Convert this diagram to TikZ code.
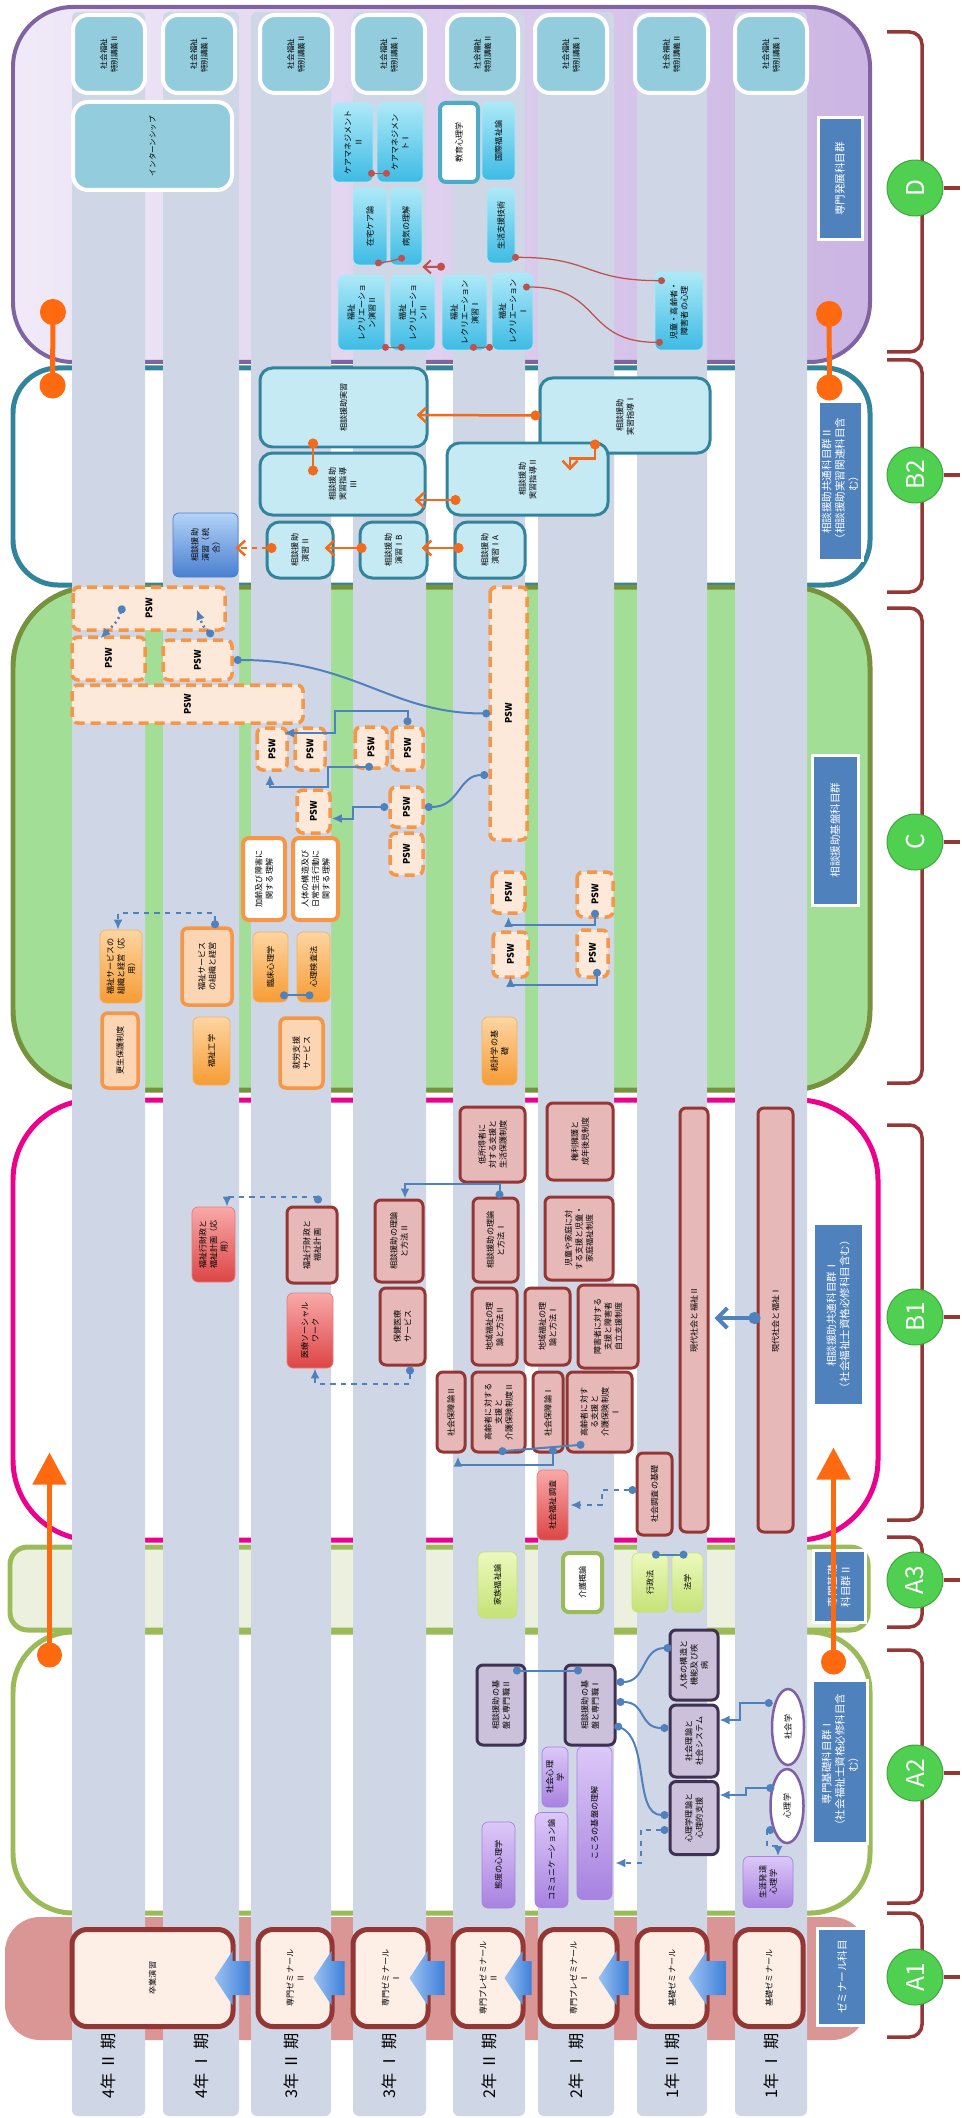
\documentclass[tikz,border=0pt]{standalone}
\usepackage{fontspec}
\setmainfont{Noto Sans CJK JP}
\usetikzlibrary{arrows.meta, calc, shapes.geometric}

\definecolor{bandgrey}{HTML}{CFD6E6}
\definecolor{semred}{HTML}{943634}
\definecolor{semfill}{HTML}{FDEEE6}
\definecolor{aonefill}{HTML}{D99694}
\definecolor{oliveG}{HTML}{9BBB59}
\definecolor{oliveD}{HTML}{76923C}
\definecolor{cgreen}{HTML}{A3DE97}
\definecolor{athree}{HTML}{EBF1DE}
\definecolor{tealB}{HTML}{31849B}
\definecolor{dpurple}{HTML}{8064A2}
\definecolor{dlite}{HTML}{F0EAF8}
\definecolor{ddark}{HTML}{CBB5E3}
\definecolor{grpblue}{HTML}{4F81BD}
\definecolor{circgreen}{HTML}{50D050}
\definecolor{bracered}{HTML}{953735}
\definecolor{orng}{HTML}{FF6A10}
\definecolor{linkblue}{HTML}{4F81BD}
\definecolor{pinkfill}{HTML}{E6B9B8}
\definecolor{orangeB}{HTML}{F79646}
\definecolor{psfill}{HTML}{FDE9D9}
\definecolor{cyanfill}{HTML}{C6EAF4}
\definecolor{tokufill}{HTML}{93CDDD}
\definecolor{linkred}{HTML}{C0504D}
\definecolor{linkorng}{HTML}{F26B1D}
\definecolor{kibanfill}{HTML}{CCC1DA}
\definecolor{kibandraw}{HTML}{3F3151}
\definecolor{purpL}{HTML}{DCC8F8}
\definecolor{purpD}{HTML}{A782E0}
\definecolor{purpE}{HTML}{7F5FA6}
\definecolor{grnL}{HTML}{ECF9BD}
\definecolor{grnD}{HTML}{C5E276}
\definecolor{redL}{HTML}{F9A9A9}
\definecolor{redD}{HTML}{DD4545}
\definecolor{oraL}{HTML}{FDD5A1}
\definecolor{oraD}{HTML}{F79C35}
\definecolor{oralite}{HTML}{FCD5B4}
\definecolor{bluL}{HTML}{B3D3F8}
\definecolor{bluD}{HTML}{4A7FD0}
\definecolor{cyaL}{HTML}{AEE9F8}
\definecolor{cyaD}{HTML}{3DBBE4}
\definecolor{tealW}{HTML}{4BACC6}
\definecolor{arrlite}{HTML}{9CC3F2}
\definecolor{arrdark}{HTML}{3D7FD9}

\tikzset{
  sz/.style 2 args={rotate=90, minimum height={(#1)*0.02cm}, minimum width={(#2)*0.02cm}},
  fsz/.style 2 args={minimum width={(#1)*0.02cm}, minimum height={(#2)*0.02cm}},
  band/.style={fill=bandgrey, rounded corners=0.12cm},
  period/.style={rotate=90, font=\fontsize{9.2}{10}\selectfont},
  glabel/.style={fill=grpblue, draw=white, line width=0.06cm, text=white, align=center, inner sep=1pt, font=\fontsize{6}{7.6}\selectfont},
  circ/.style={circle, fill=circgreen, draw=circgreen!80!black, line width=0.02cm, text=white, minimum size=1.12cm, inner sep=0pt, rotate=90, font=\fontsize{14}{14}\selectfont},
  grpbrace/.style={draw=bracered, line width=0.07cm, rounded corners=0.25cm},
  subj/.style={rounded corners=0.12cm, inner sep=0.5pt, align=center, font=\fontsize{4.6}{6}\selectfont},
  seminar/.style={subj, fill=semfill, draw=semred, line width=0.1cm, rounded corners=0.3cm},
  purp/.style={subj, top color=purpL, bottom color=purpD, draw=purpD},
  kiban/.style={subj, fill=kibanfill, draw=kibandraw, line width=0.06cm},
  ellip/.style={ellipse, fill=white, draw=purpE, line width=0.05cm, inner sep=0pt, font=\fontsize{4.6}{6}\selectfont},
  greenbox/.style={subj, top color=grnL, bottom color=grnD, draw=grnD},
  greenwhite/.style={subj, fill=white, draw=oliveG, line width=0.08cm},
  pinkbox/.style={subj, fill=pinkfill, draw=semred, line width=0.06cm},
  redgrad/.style={subj, top color=redL, bottom color=redD, draw=redD!70},
  oragrad/.style={subj, top color=oraL, bottom color=oraD, draw=oraD!80},
  oraline/.style={subj, fill=oralite, draw=orangeB, line width=0.07cm},
  orawhite/.style={subj, fill=white, draw=orangeB, line width=0.08cm},
  psw/.style={subj, fill=psfill, draw=orangeB, line width=0.07cm, dash pattern=on 0.2cm off 0.12cm, font=\bfseries\fontsize{5.2}{6}\selectfont},
  cyanbox/.style={subj, fill=cyanfill, draw=tealB, line width=0.06cm, rounded corners=0.25cm},
  bluegrad/.style={subj, top color=bluL, bottom color=bluD, draw=bluD},
  toku/.style={subj, fill=tokufill, draw=white, line width=0.08cm, rounded corners=0.3cm, font=\fontsize{4.3}{6}\selectfont},
  cyangrad/.style={subj, top color=cyaL, bottom color=cyaD, draw=cyaL},
  tealwhite/.style={subj, fill=white, draw=tealW, line width=0.08cm},
  blink/.style={draw=linkblue, line width=0.04cm},
  bdd/.style={blink, arrows={Circle[length=0.16cm]-Circle[length=0.16cm]}},
  bda/.style={blink, arrows={Circle[length=0.16cm]-Latex[length=0.2cm, width=0.18cm]}},
  olink/.style={draw=linkorng, line width=0.05cm},
  oda/.style={olink, arrows={Circle[length=0.2cm]-Straight Barb[length=0.16cm, width=0.3cm]}},
  odd/.style={olink, arrows={Circle[length=0.2cm]-Circle[length=0.2cm]}},
  rlink/.style={draw=linkred, line width=0.025cm},
  rdd/.style={rlink, arrows={Circle[length=0.14cm]-Circle[length=0.14cm]}},
  rda/.style={rlink, line width=0.04cm, arrows={Circle[length=0.16cm]-Straight Barb[length=0.14cm, width=0.26cm]}},
  bigo/.style={draw=orng, line width=0.1cm},
}

\begin{document}
\begin{tikzpicture}[x=0.02cm, y=-0.02cm]
    \useasboundingbox (0,0) rectangle (961,2118);

    % Group frames
    \node[fsz={857}{355}, rounded corners=1.2cm, left color=dlite, right color=ddark, draw=dpurple, line width=0.08cm] (frD) at (441.5,184.5) {};
    \node[fsz={857}{217}, rounded corners=0.9cm, fill=white, draw=tealB, line width=0.1cm] (frB2) at (441.5,476.5) {};
    \node[fsz={857}{503}, rounded corners=1.6cm, fill=cgreen, draw=oliveD, line width=0.1cm] (frC) at (441.5,838.5) {};
    \node[fsz={865}{440}, rounded corners=1.6cm, draw=magenta, line width=0.1cm] (frB1) at (445.5,1320) {};
    \node[fsz={858}{83}, rounded corners=0.35cm, fill=athree, draw=oliveG, line width=0.1cm] (frA3) at (439,1588.5) {};
    \node[fsz={857}{281}, rounded corners=1.2cm, draw=oliveG, line width=0.1cm] (frA2) at (441.5,1772.5) {};
    \node[fsz={862}{123}, rounded corners=0.7cm, fill=aonefill] (frA1) at (436,1978.5) {};

    % Period bands
    \foreach \n/\xa/\xb/\lab in {1/72/145/{4年 Ⅱ 期}, 2/163/239/{4年 Ⅰ 期}, 3/251/331/{3年 Ⅱ 期}, 4/353/426/{3年 Ⅰ 期},
                                5/453/525/{2年 Ⅱ 期}, 6/538/614/{2年 Ⅰ 期}, 7/637/707/{1年 Ⅱ 期}, 8/735/807/{1年 Ⅰ 期}} {
        \fill[band] (\xa,12) rectangle (\xb,2116);
        \node[period] (p\n) at ({(\xa+\xb)/2},2066) {\lab};
    }

    % Group labels
    \node[glabel, sz={44}{122}] (gD) at (840,179) {専門発展科目群};
    \node[glabel, sz={44}{158}] (gB2) at (840,481) {相談援助共通科目群Ⅱ\\（相談援助実習関連科目含\\む）};
    \node[glabel, sz={46}{150}] (gC) at (835,830) {相談援助基盤科目群};
    \node[glabel, sz={50}{182}] (gB1) at (838,1314) {相談援助共通科目群Ⅰ\\（社会福祉士資格必修科目含む）};
    \node[glabel, sz={52}{72}] (gA3) at (839,1586) {専門基礎\\科目群Ⅱ};
    \node[glabel, sz={55}{163}] (gA2) at (840,1762) {専門基礎科目群Ⅰ\\（社会福祉士資格必修科目含\\む）};
    \node[glabel, sz={49}{97}] (gA1) at (842,1977) {ゼミナール科目};

    % Brackets and circles
    \foreach \nm/\ya/\yb/\yc in {D/32/352/188, B2/360/592/475, C/608/1083/842, B1/1125/1520/1317,
                                 A3/1537/1627/1580, A2/1650/1903/1773, A1/1913/2037/1977} {
        \draw[grpbrace] (887,\ya) -- (922,\ya) -- (922,\yb) -- (887,\yb);
        \node[circ] (c\nm) at (915,\yc) {\nm};
        \draw[grpbrace] (c\nm.south) -- ++(16,0);
    }

    % A1 seminars
    \node[seminar, sz={161}{97}] (s8) at (152.5,1978) {卒業演習};
    \node[seminar, sz={74}{97}] (s7) at (295,1978) {専門ゼミナール\\Ⅱ};
    \node[seminar, sz={75}{97}] (s6) at (390.5,1978) {専門ゼミナール\\Ⅰ};
    \node[seminar, sz={70}{97}] (s5) at (488,1978) {専門プレゼミナール\\Ⅱ};
    \node[seminar, sz={77}{97}] (s4) at (578.5,1978) {専門プレゼミナール\\Ⅰ};
    \node[seminar, sz={70}{97}] (s3) at (672,1978) {基礎ゼミナール};
    \node[seminar, sz={68}{97}] (s2) at (769,1978) {基礎ゼミナール};
    \foreach \a/\b in {s2/s3, s3/s4, s4/s5, s5/s6, s6/s7, s7/s8}
        \shade[left color=arrlite, right color=arrdark] ($(\a.north)+(-6,-17)$) -- ($(\b.south)+(-3,-17)$) -- ($(\b.south)+(-3,-27)$)
            -- ($(\b.south)+(-21,0)$) -- ($(\b.south)+(-3,27)$) -- ($(\b.south)+(-3,17)$) -- ($(\a.north)+(-6,17)$) -- cycle;

    % A2 subjects
    \node[purp, sz={33}{86}] (taido) at (498.5,1865) {態度の心理学};
    \node[purp, sz={26}{60}] (shakaishin) at (555,1777) {社会心理\\学};
    \node[purp, sz={33}{95}] (comm) at (551.5,1860) {コミュニケーション論};
    \node[purp, sz={35}{153}] (kokoro) at (594.5,1823) {こころの基盤の理解};
    \node[kiban, sz={48}{80}] (kiban2) at (501,1705) {相談援助の基\\盤と専門職Ⅱ};
    \node[kiban, sz={50}{80}] (kiban1) at (590,1705) {相談援助の基\\盤と専門職Ⅰ};
    \node[kiban, sz={48}{70}] (jintai) at (694,1665) {人体の構造と\\機能及び疾\\病};
    \node[kiban, sz={48}{72}] (shakairiron) at (694,1741) {社会理論と\\社会システム};
    \node[kiban, sz={48}{73}] (shinri) at (694,1818) {心理学理論と\\心理的支援};
    \node[ellip, sz={32}{76}] (shakaigaku) at (788,1727) {社会学};
    \node[ellip, sz={33}{74}] (shinrigaku) at (787,1806) {心理学};
    \node[purp, sz={50}{51}] (shogai) at (768,1882) {生涯発達\\心理学};

    % A3 subjects
    \node[greenbox, sz={39}{66}] (kazoku) at (497.5,1585) {家族福祉論};
    \node[greenwhite, sz={39}{59}] (kaigo) at (582.5,1582.5) {介護概論};
    \node[greenbox, sz={36}{59}] (gyosei) at (650,1582.5) {行政法};
    \node[greenbox, sz={31}{59}] (hogaku) at (687.5,1582.5) {法学};

    % B1 subjects
    \node[pinkbox, sz={65}{75}] (teishotoku) at (492.5,1144.5) {低所得者に\\対する支援と\\生活保護制度};
    \node[pinkbox, sz={66}{77}] (kenri) at (580,1141.5) {権利擁護と\\成年後見制度};
    \node[pinkbox, sz={45}{84}] (soudan1) at (495.5,1240) {相談援助の理論\\と方法Ⅰ};
    \node[pinkbox, sz={68}{83}] (jido) at (579,1238.5) {児童や家庭に対\\する支援と児童・\\家庭福祉制度};
    \node[pinkbox, sz={45}{77}] (chiiki2) at (494.5,1326.5) {地域福祉の理\\論と方法Ⅱ};
    \node[pinkbox, sz={45}{77}] (chiiki1) at (547.5,1326.5) {地域福祉の理\\論と方法Ⅰ};
    \node[pinkbox, sz={60}{83}] (shogaisha) at (608,1326.5) {障害者に対する\\支援と障害者\\自立支援制度};
    \node[pinkbox, sz={28}{80}] (hosho2) at (451,1412) {社会保障論Ⅱ};
    \node[pinkbox, sz={53}{80}] (korei2) at (498.5,1412) {高齢者に対する\\支援と\\介護保険制度Ⅱ};
    \node[pinkbox, sz={30}{80}] (hosho1) at (548,1412) {社会保障論Ⅰ};
    \node[pinkbox, sz={65}{80}] (korei1) at (599.5,1412) {高齢者に対す\\る支援と\\介護保険制度\\Ⅰ};
    \node[redgrad, sz={31}{70}] (chosa) at (552.5,1505) {社会福祉調査};
    \node[pinkbox, sz={35}{82}] (chosakiso) at (654.5,1494) {社会調査の基礎};
    \node[pinkbox, sz={28}{424}] (gendai2) at (694,1320) {現代社会と福祉Ⅱ};
    \node[pinkbox, sz={35}{424}] (gendai1) at (775.5,1320) {現代社会と福祉Ⅰ};
    \node[pinkbox, sz={48}{82}] (soudan2) at (399,1241) {相談援助の理論\\と方法Ⅱ};
    \node[pinkbox, sz={45}{77}] (hoken) at (402.5,1326.5) {保健医療\\サービス};
    \node[redgrad, sz={46}{75}] (iryo) at (310,1330.5) {医療ソーシャル\\ワーク};
    \node[pinkbox, sz={50}{76}] (zaisei) at (312,1245) {福祉行財政と\\福祉計画};
    \node[redgrad, sz={43}{75}] (zaisei2) at (213.5,1244.5) {福祉行財政と\\福祉計画（応\\用）};

    % C subjects
    \node[oraline, sz={36}{75}] (kousei) at (120,1050.5) {更生保護制度};
    \node[oragrad, sz={37}{68}] (kogaku) at (211.5,1051) {福祉工学};
    \node[oraline, sz={43}{70}] (shuro) at (301.5,1053) {就労支援\\サービス};
    \node[oragrad, sz={35}{68}] (tokei) at (499.5,1051) {統計学の基\\礎};
    \node[oragrad, sz={42}{73}] (soshiki2) at (121,966.5) {福祉サービスの\\組織と経営（応\\用）};
    \node[oraline, sz={50}{77}] (soshiki) at (207,966.5) {福祉サービス\\の組織と経営};
    \node[orawhite, sz={42}{82}] (karei) at (264,879) {加齢及び障害に\\関する理解};
    \node[orawhite, sz={45}{82}] (jintai2) at (315.5,879) {人体の構造及び\\日常生活行動に\\関する理解};
    \node[oragrad, sz={35}{70}] (rinsho) at (270.5,967) {臨床心理学};
    \node[oragrad, sz={33}{70}] (kensa) at (313.5,967) {心理検査法};

    % PSW
    \node[psw, sz={30}{42}] (psA) at (272,749) {PSW};
    \node[psw, sz={30}{42}] (psB) at (310,749) {PSW};
    \node[psw, sz={32}{41}] (psC) at (371,747.5) {PSW};
    \node[psw, sz={31}{43}] (psD) at (407.5,748.5) {PSW};
    \node[psw, sz={33}{43}] (psE) at (313.5,811.5) {PSW};
    \node[psw, sz={33}{40}] (psF) at (406.5,807) {PSW};
    \node[psw, sz={33}{42}] (psG) at (406.5,854) {PSW};
    \node[psw, sz={37}{253}] (psBig) at (508.5,713.5) {PSW};
    \node[psw, sz={33}{41}] (psH) at (508.5,892.5) {PSW};
    \node[psw, sz={36}{45}] (psI) at (595,894.5) {PSW};
    \node[psw, sz={35}{45}] (psJ) at (510.5,954.5) {PSW};
    \node[psw, sz={31}{47}] (psK) at (592.5,953.5) {PSW};
    \node[psw, sz={152}{43}] (psL) at (149,608.5) {PSW};
    \node[psw, sz={73}{43}] (psM) at (108.5,658.5) {PSW};
    \node[psw, sz={69}{40}] (psN) at (197.5,660) {PSW};
    \node[psw, sz={231}{38}] (psO) at (187.5,704) {PSW};

    % B2 subjects
    \node[bluegrad, sz={65}{64}] (togo) at (205.5,545) {相談援助\\演習（統\\合）};
    \node[cyanbox, sz={66}{56}] (en2) at (300,550) {相談援助\\演習Ⅱ};
    \node[cyanbox, sz={67}{56}] (en1b) at (393.5,550) {相談援助\\演習ⅠB};
    \node[cyanbox, sz={70}{56}] (en1a) at (490,550) {相談援助\\演習ⅠA};
    \node[cyanbox, sz={167}{79}] (jisshu) at (343.5,407.5) {相談援助実習};
    \node[cyanbox, sz={165}{62}] (shido3) at (342.5,484) {相談援助\\実習指導\\Ⅲ};
    \node[cyanbox, sz={170}{75}] (shido1) at (625,415.5) {相談援助\\実習指導Ⅰ};
    \node[cyanbox, sz={161}{72}] (shido2) at (527.5,479) {相談援助\\実習指導Ⅱ};

    % D subjects
    \foreach \n/\xa/\xb/\r in {1/73/145/Ⅱ, 2/163/235/Ⅰ, 3/260/332/Ⅱ, 4/353/425/Ⅰ, 5/447/518/Ⅱ, 6/535/607/Ⅰ, 7/635/708/Ⅱ, 8/735/807/Ⅰ}
        \node[toku, sz={\xb-\xa}{78}] (toku\n) at ({(\xa+\xb)/2},54) {社会福祉\\特別講義\r};
    \node[toku, sz={159}{88}] (intern) at (152.5,146) {インターンシップ};
    \node[cyangrad, sz={40}{79}] (care2) at (353,142.5) {ケアマネジメント\\Ⅱ};
    \node[cyangrad, sz={46}{79}] (care1) at (400,142.5) {ケアマネジメン\\トⅠ};
    \node[cyangrad, sz={34}{77}] (zaitaku) at (370,226.5) {在宅ケア論};
    \node[cyangrad, sz={32}{77}] (byoki) at (406,226.5) {病気の理解};
    \node[cyangrad, sz={47}{75}] (rec2en) at (361.5,312.5) {福祉\\レクリエーショ\\ン演習Ⅱ};
    \node[cyangrad, sz={45}{75}] (rec2) at (412.5,312.5) {福祉\\レクリエーショ\\ンⅡ};
    \node[cyangrad, sz={45}{75}] (rec1en) at (464.5,312.5) {福祉\\レクリエーション\\演習Ⅰ};
    \node[tealwhite, sz={38}{79}] (kyoiku) at (459,142.5) {教育心理学};
    \node[cyangrad, sz={33}{78}] (kokusai) at (498.5,141) {国際福祉論};
    \node[cyangrad, sz={28}{75}] (seikatsu) at (501,225.5) {生活支援技術};
    \node[cyangrad, sz={41}{77}] (rec1) at (512.5,311.5) {福祉\\レクリエーション\\Ⅰ};
    \node[cyangrad, sz={48}{78}] (jidoshin) at (679,311) {児童・高齢者・\\障害者の心理};

    % A2 links
    \draw[bdd] ($(kiban2.east)+(12,7)$) -- ($(kiban1.east)+(-8,7)$);
    \draw[bdd] ($(kiban1.south)+(0,-23)$) .. controls +(30,0) and +(-30,0) .. ($(jintai.north)+(3,-17)$);
    \draw[bdd] ($(kiban1.south)+(0,-3)$) .. controls +(30,0) and +(-30,0) .. ($(shakairiron.north)+(0,-13)$);
    \draw[bdd] ($(kiban1.south)+(-2,20)$) .. controls +(35,15) and +(-35,0) .. ($(shinri.north)+(0,-3)$);
    \draw[bda] ($(shakaigaku.north)+(2,-24)$) -- ++(-33,0) |- ($(shakairiron.south)+(0,-21)$);
    \draw[bda] ($(shinrigaku.north)+(5,-18)$) -- ++(-28,0) |- ($(shinri.south)+(0,-23)$);
    \draw[bda, dashed] ($(shinrigaku.north)+(5,24)$) -- ++(-7,0) -- ++(0,16) -| ($(shogai.east)+(10,0)$);
    \draw[bda, dashed] ($(shinri.north)+(0,12)$) -- ++(-28,0) |- ($(kokoro.south)+(3,40)$);
    \draw[bdd] ($(gyosei.east)+(2,2)$) -- ($(hogaku.east)+(0,2)$);

    % B1 links
    \draw[blink, line width=0.08cm, arrows={Circle[length=0.24cm]-Straight Barb[length=0.2cm, width=0.4cm]}] ($(gendai1.north)+(4,-2)$) -- ($(gendai2.south)+(5,-2)$);
    \draw[bda, dashed] ($(chosakiso.north)+(1,-4)$) -- ++(-35,0) |- ($(chosa.south)+(2,0)$);
    \draw[bdd] ($(korei2.west)+(0,-2)$) -- ($(korei1.west)+(-15,-9)$);
    \draw[bda] ($(hosho1.west)+(5,-7)$) -- ++(0,18) -| ($(hosho2.west)+(7,3)$);
    \draw[bda] ($(soudan1.east)+(4,2)$) -- ++(0,-15) -| ($(soudan2.east)+(6,0)$);
    \draw[bda, dashed] ($(zaisei.east)+(6,-2)$) -- ++(0,-7) -| ($(zaisei2.east)+(13.5,0)$);
    \draw[bda, dashed] ($(hoken.west)+(7.5,0)$) -- ++(0,17) -| ($(iryo.west)+(5,0)$);

    % C links
    \draw[bda, dashed] ($(soshiki.east)+(8,2)$) -- ++(0,-15) -| ($(soshiki2.east)+(-3,0)$);
    \draw[bdd] ($(rinsho.west)+(9.5,-7)$) -- ($(kensa.west)+(0,-7)$);
    \draw[bda] (psD.east) -- ++(0,-14) -- ++(-73,0) |- ($(psA.south)+(-5,-16)$);
    \draw[bda] ($(psC.west)+(2,-3)$) -- ++(-45,0) -- ++(0,20) -| ($(psA.west)+(-2,3)$);
    \draw[bda] (psF.north) -- ++(-35,0) |- ($(psE.south)+(0,7)$);
    \draw[bdd] (psF.south) .. controls +(35,0) and +(-30,0) .. ($(psBig.north)+(0,61.5)$);
    \draw[bdd] (psN.south) .. controls +(120,0) and +(-100,0) .. ($(psBig.north)+(2,0)$);
    \draw[bda] ($(psI.west)+(0,-9)$) -- ++(0,15) -| ($(psH.west)+(0,2)$);
    \draw[bda] ($(psK.west)+(4.5,-10)$) -- ++(0,16) -| ($(psJ.west)+(0,-2)$);
    \draw[bda, dotted, line width=0.05cm] ($(psL.center)+(-26,-3)$) .. controls +(-5,15) .. ($(psM.east)+(-8,3)$);
    \draw[bda, dotted, line width=0.05cm] ($(psN.east)+(15.5,-2)$) .. controls +(-10,-10) .. ($(psL.west)+(48,-22)$);

    % B2 links
    \draw[oda] ($(en1a.north)+(10,-2)$) -- ($(en1b.south)+(-7,-2)$);
    \draw[oda] ($(en1b.north)+(8,-2)$) -- ($(en2.south)+(-10,-2)$);
    \draw[oda, dashed] ($(en2.north)+(11,-2)$) -- ($(togo.south)+(-3,3)$);
    \draw[oda] ($(shido2.north)+(15,21)$) -- ($(shido3.south)+(-12,16)$);
    \draw[oda] ($(shido1.north)+(2,0)$) -- ($(jisshu.south)+(-12,7.5)$);
    \draw[odd] ($(jisshu.west)+(-30.5,-10)$) -- ($(shido3.east)+(-29.5,24)$);
    \draw[oda] ($(shido1.west)+(-30,-15)$) -- ++(0,19) -| ($(shido2.east)+(42.5,29)$);

    % D links
    \draw[rdd] ($(care2.west)+(15,-9)$) -- ($(care1.west)+(-10,-9)$);
    \draw[rdd] ($(zaitaku.west)+(5,-2)$) -- ++(15,-2) -- ($(byoki.west)+(-1,-8)$);
    \draw[rdd] ($(rec2en.west)+(20.5,-3)$) -- ($(rec2.west)+(-7.5,-3)$);
    \draw[rdd] ($(rec1en.west)+(5.5,-3)$) -- ($(rec1.west)+(-19.5,-3)$);
    \draw[rda] ($(rec1en.east)+(-19.5,-8)$) -- ($(byoki.south)+(0,40.5)$);
    \draw[rdd] ($(seikatsu.west)+(11,-6)$) .. controls +(80,0) and +(-80,0) .. ($(jidoshin.east)+(-14,9)$);
    \draw[rdd] ($(rec1.center)+(10.5,-24.5)$) .. controls +(80,0) and +(-80,0) .. ($(jidoshin.west)+(-16,-8)$);

    % Orange group links
    \draw[bigo, arrows={Circle[length=0.52cm]-Circle[length=0.52cm]}] ($(frD.south west)+(42,-65)$) -- ($(frB2.north west)+(42,33)$);
    \draw[bigo, arrows={Circle[length=0.52cm]-Circle[length=0.52cm]}] ($(frD.south east)+(-43,-63)$) -- ($(frB2.north east)+(-43,35)$);
    \draw[bigo, arrows={Circle[length=0.5cm]-Triangle[length=0.64cm, width=0.66cm]}] ($(frA2.north west)+(39,38)$) -- ($(frB1.south west)+(39,-90)$);
    \draw[bigo, arrows={Circle[length=0.5cm]-Triangle[length=0.64cm, width=0.66cm]}] ($(frA2.north east)+(-39,45)$) -- ($(frB1.south east)+(-47,-95)$);

\end{tikzpicture}
\end{document}
